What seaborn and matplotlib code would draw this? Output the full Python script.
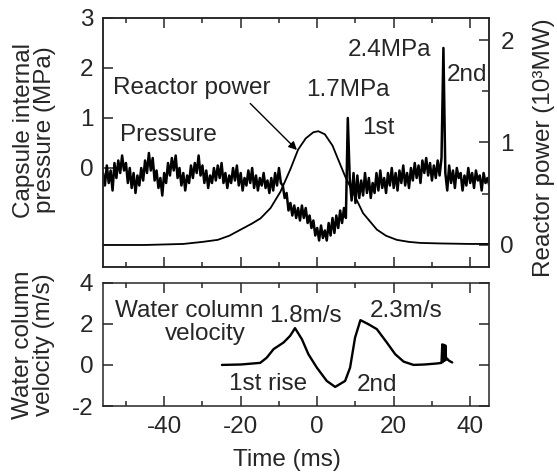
import numpy as np
import pandas as pd
import matplotlib.pyplot as plt
from matplotlib.ticker import MultipleLocator
import seaborn as sns

# ---------------------------------------------------------------------
# data
# ---------------------------------------------------------------------

# capsule internal pressure (MPa), sampled every 0.5 ms from -56 ms
pressure_start = -56.0
pressure_step = 0.5
pressure = [
    -0.1, -0.35, 0.05, -0.3, -0.05, -0.45, 0.1, -0.2, 0.15, -0.1,
    0.25, -0.05, 0.1, -0.3, 0.0, -0.4, -0.1, -0.5, -0.15, -0.35,
    0.0, -0.25, 0.15, -0.1, 0.3, -0.05, 0.2, -0.25, -0.05, -0.4,
    -0.2, -0.55, -0.1, -0.3, 0.1, -0.15, 0.2, -0.05, 0.25, -0.2,
    0.0, -0.35, -0.1, -0.45, -0.15, -0.3, 0.05, -0.2, 0.1, -0.1,
    0.25, -0.15, 0.05, -0.3, -0.05, -0.4, -0.15, -0.3, 0.0, -0.25,
    0.05, -0.2, 0.1, -0.3, -0.1, -0.4, -0.15, -0.3, 0.0, -0.25,
    0.05, -0.35, -0.1, -0.45, -0.2, -0.35, -0.05, -0.3, 0.0, -0.4,
    -0.15, -0.45, -0.2, -0.35, -0.1, -0.4, -0.25, -0.5,
    -0.2, -0.45, -0.1, -0.35, 0.0, -0.3,
    -0.35, -0.6, -0.5, -0.85, -0.7, -0.95, -0.75, -1.0, -0.8,
    -1.05, -0.75, -1.0, -0.8, -1.1, -0.95,
    -1.2, -1.05, -1.35, -1.2, -1.45, -1.15, -1.4, -1.25, -1.45, -1.1,
    -1.35, -1.0, -1.3, -0.95, -1.2, -0.85, -1.1, -0.8, -1.0,
    1.0,
    -0.2, -0.65, -0.1, -0.7, -0.15, -0.6,
    -0.25, -0.55, -0.1, -0.5, -0.2, -0.6, -0.3, -0.5, -0.1, -0.45,
    -0.05, -0.4, -0.2, -0.5, -0.1, -0.35, 0.0, -0.4,
    -0.1, -0.45, -0.05, -0.3, 0.05, -0.35, -0.1, -0.4, 0.0, -0.25,
    0.1, -0.2, 0.05, -0.3, 0.15, -0.1, 0.2, -0.15, 0.1, -0.25,
    0.05, -0.2, 0.15, -0.15, 0.2,
    2.4,
    -0.1, -0.45, 0.05, -0.3, -0.05, -0.4, 0.0, -0.2, -0.1, -0.45,
    -0.15, -0.35, 0.0, -0.3, -0.1, -0.4, -0.05, -0.25, -0.15, -0.45,
    -0.1, -0.3, -0.2, -0.35,
]

# reactor power (10^3 MW)
power_time = [-56, -45, -35, -30, -26, -23, -20, -17, -14.8, -12.2, -9.6, -7, -5, -3,
              -1, 0.3, 2, 4, 5.2, 7.3, 9.4, 12, 15.6, 18, 20.8, 24, 27, 32, 40, 45]
power = [0.0, 0.0, 0.01, 0.03, 0.05, 0.09, 0.15, 0.21, 0.26, 0.36, 0.52, 0.74, 0.93, 1.04,
         1.10, 1.11, 1.08, 0.97, 0.86, 0.67, 0.51, 0.31, 0.15, 0.09, 0.05, 0.03, 0.02, 0.015, 0.01, 0.01]

# water column velocity (m/s)
vel_time = [-24.9, -20, -14.9, -13.2, -11.4, -8.8, -7.1, -5.8, -4.0, -2.3, -0.1, 2.5, 4.7, 7.3,
            8.6, 9.9, 11.3, 13.4, 15.6, 18.2, 20.4, 22.6, 25.2, 28, 31.3, 32.5, 32.7, 32.9,
            33.1, 33.3, 33.5, 33.7, 34.0, 34.5, 35.3]
velocity = [0.0, 0.02, 0.1, 0.35, 0.77, 1.09, 1.41, 1.79, 1.25, 0.52, -0.13, -0.78, -1.07, -0.78,
            -0.13, 1.33, 2.18, 1.98, 1.74, 1.09, 0.52, 0.16, 0.0, 0.02, 0.07, 0.1, 1.0, 0.15,
            0.98, 0.2, 0.95, 0.25, 0.3, 0.2, 0.12]

FS = 17.5

sns.set_style("ticks")
plt.rcParams['font.family'] = ['Liberation Sans', 'DejaVu Sans']
plt.rcParams['axes.unicode_minus'] = False
plt.rcParams['axes.linewidth'] = 1.1

df_p = pd.DataFrame({'t': pressure_start + pressure_step * np.arange(len(pressure)),
                     'p': pressure})
df_pow = pd.DataFrame({'t': power_time, 'pw': power})
df_v = pd.DataFrame({'t': vel_time, 'v': velocity})

fig = plt.figure(figsize=(5.57, 4.73), dpi=100)
ax_p = fig.add_axes([0.1849, 0.4355, 0.6936, 0.5265])
ax_w = fig.add_axes([0.1849, 0.1416, 0.6936, 0.2607])
ax_r = ax_p.twinx()

sns.lineplot(data=df_p, x='t', y='p', ax=ax_p, color='black', lw=1.8,
             estimator=None, sort=False)
sns.lineplot(data=df_pow, x='t', y='pw', ax=ax_r, color='black', lw=1.3,
             estimator=None, sort=False)
sns.lineplot(data=df_v, x='t', y='v', ax=ax_w, color='black', lw=1.7,
             estimator=None, sort=False)

# ---------------------------------------------------------------------
# axes styling
for ax in (ax_p, ax_w):
    ax.set_xlim(-56, 45)
    ax.set_xticks([-40, -20, 0, 20, 40])
    ax.xaxis.set_minor_locator(MultipleLocator(10))
    ax.tick_params(axis='x', which='both', direction='in', top=True, bottom=True)
    ax.tick_params(axis='both', which='major', length=7, width=1.1, labelsize=FS, pad=7)
    ax.tick_params(axis='both', which='minor', length=3.5, width=1.1)

ax_p.set_ylim(-1.98, 3)
ax_p.set_yticks([0, 1, 2, 3])
ax_p.tick_params(axis='y', direction='in', left=True, right=False)
ax_p.tick_params(axis='x', labelbottom=False)
ax_p.set_xlabel('')
ax_p.set_ylabel('Capsule internal\npressure (MPa)', fontsize=FS, linespacing=0.95)
ax_p.yaxis.set_label_coords(-0.122, 0.55)

ax_r.set_ylim(-0.215, 2.215)
ax_r.set_yticks([0, 1, 2])
ax_r.yaxis.set_minor_locator(MultipleLocator(0.5))
ax_r.tick_params(axis='y', which='both', direction='in', labelsize=FS, pad=8, width=1.1)
ax_r.tick_params(axis='y', which='major', length=7)
ax_r.tick_params(axis='y', which='minor', length=5)
ax_r.set_ylabel('Reactor power (10³MW)', fontsize=FS)
ax_r.yaxis.set_label_coords(1.113, 0.478)

ax_w.set_ylim(-2, 4)
ax_w.set_yticks([-2, 0, 2, 4])
ax_w.tick_params(axis='y', direction='in', left=True, right=True)
ax_w.set_xlabel('Time (ms)', fontsize=FS)
ax_w.xaxis.set_label_coords(0.475, -0.35)
ax_w.set_ylabel('Water column\nvelocity (m/s)', fontsize=FS, linespacing=0.95)
ax_w.yaxis.set_label_coords(-0.124, 0.5)

# ---------------------------------------------------------------------
# annotations
ax_p.annotate('', xy=(-5.3, 0.36), xytext=(-17.5, 1.29),
              arrowprops=dict(arrowstyle='-|>', color='black', lw=1.0,
                              mutation_scale=12, shrinkA=0, shrinkB=0))
ax_p.text(-53.4, 1.6, 'Reactor power', fontsize=FS, ha='left', va='center')
ax_p.text(-51.6, 0.66, 'Pressure', fontsize=FS, ha='left', va='center')
ax_p.text(7.9, 1.56, '1.7MPa', fontsize=FS, ha='center', va='center')
ax_p.text(11.8, 0.8, '1st', fontsize=FS, ha='left', va='center')
ax_p.text(18.8, 2.36, '2.4MPa', fontsize=FS, ha='center', va='center')
ax_p.text(34.0, 1.86, '2nd', fontsize=FS, ha='left', va='center')

ax_w.text(-52.9, 2.63, 'Water column', fontsize=FS, ha='left', va='center')
ax_w.text(-29.2, 1.5, 'velocity', fontsize=FS, ha='center', va='center')
ax_w.text(-3.1, 2.39, '1.8m/s', fontsize=FS, ha='center', va='center')
ax_w.text(23.3, 2.63, '2.3m/s', fontsize=FS, ha='center', va='center')
ax_w.text(-12.8, -0.94, '1st rise', fontsize=FS, ha='center', va='center')
ax_w.text(15.6, -0.99, '2nd', fontsize=FS, ha='center', va='center')

plt.savefig('out.png', dpi=100)
